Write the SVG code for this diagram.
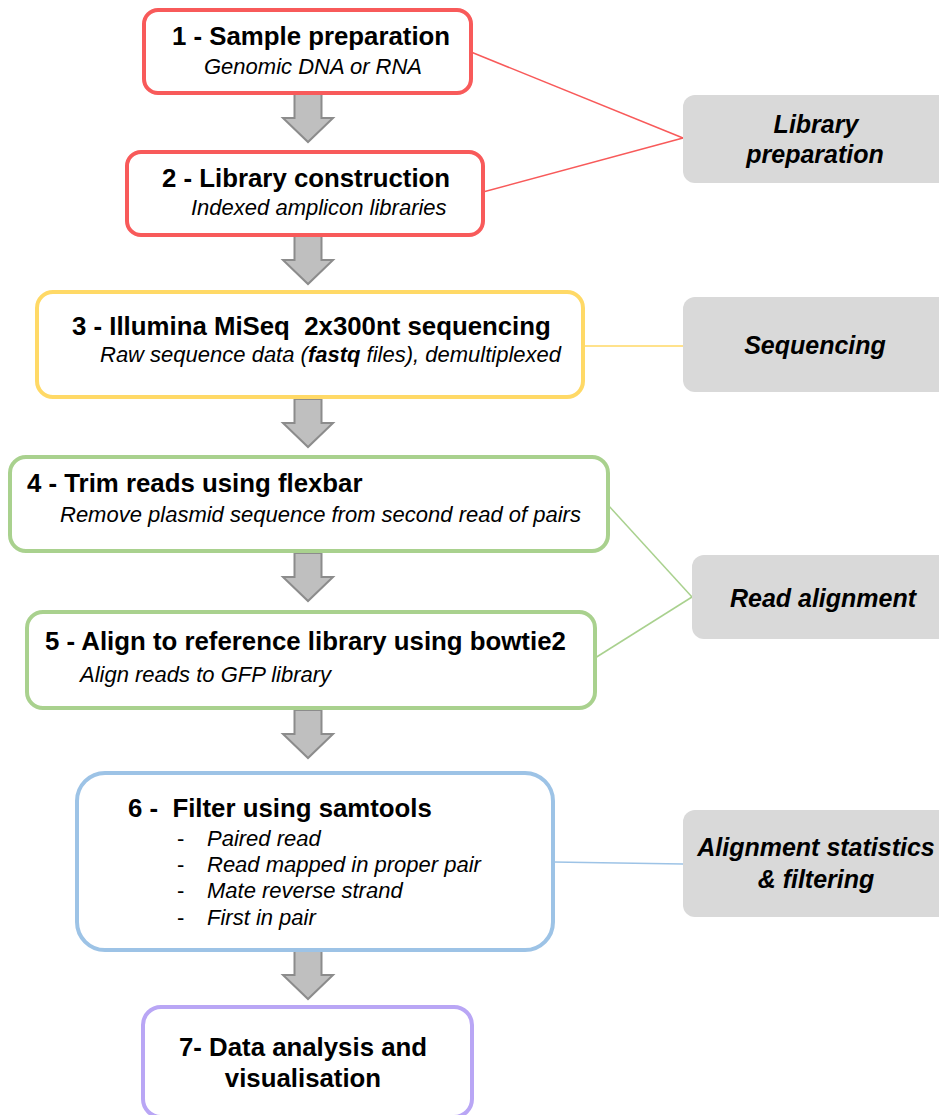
<svg xmlns="http://www.w3.org/2000/svg" width="939" height="1115" viewBox="0 0 939 1115">
  <style>
    .step { fill: #ffffff; stroke-width: 4; }
    .red { stroke: #F85A5A; }
    .yellow { stroke: #FFD966; }
    .green { stroke: #A9D18E; }
    .blue { stroke: #9DC3E6; }
    .purple { stroke: #B9A6F5; }
    .stage { fill: #D9D9D9; stroke: none; }
    .title { font-family: "Liberation Sans", Arial, sans-serif; font-weight: bold; font-size: 25.8px; fill: #000; }
    .sub { font-family: "Liberation Sans", Arial, sans-serif; font-style: italic; font-size: 22px; fill: #000; }
    .dash { font-family: "Liberation Sans", Arial, sans-serif; font-size: 22px; fill: #000; }
    .label { font-family: "Liberation Sans", Arial, sans-serif; font-weight: bold; font-style: italic; font-size: 25px; fill: #000; text-anchor: middle; }
    .flow { fill: #BFBFBF; stroke: #8C8C8C; stroke-width: 2; stroke-linejoin: miter; }
    .link { fill: none; stroke-width: 1.5; }
  </style>
  <defs>
    <!-- block arrow pointing down, top at y=0 -->
    <polygon id="down" points="-13.5,0 13.5,0 13.5,24 25,24 0,48 -25,24 -13.5,24 -13.5,0"/>
  </defs>

  <rect width="939" height="1115" fill="#ffffff"/>

  <!-- connectors between steps and stage labels -->
  <g id="connectors">
    <line class="link red" x1="471" y1="52" x2="683" y2="138"/>
    <line class="link red" x1="483" y1="192" x2="683" y2="138"/>
    <line class="link yellow" x1="583" y1="346" x2="683" y2="346"/>
    <line class="link green" x1="608" y1="505" x2="692" y2="597"/>
    <line class="link green" x1="595" y1="658" x2="692" y2="597"/>
    <line class="link blue" x1="553" y1="862" x2="683" y2="864"/>
    <use href="#down" class="flow" x="308" y="94"/>
    <use href="#down" class="flow" x="308" y="236"/>
    <use href="#down" class="flow" x="308" y="399"/>
    <use href="#down" class="flow" x="308" y="553"/>
    <use href="#down" class="flow" x="308" y="710"/>
    <use href="#down" class="flow" x="308" y="951"/>
  </g>

  <g id="step1">
    <rect class="step red" x="144" y="10" width="327" height="83" rx="14"/>
    <text class="title" x="172" y="45">1 - Sample preparation</text>
    <text class="sub" x="204" y="74">Genomic DNA or RNA</text>
  </g>

  <g id="step2">
    <rect class="step red" x="127" y="152" width="356" height="83" rx="14"/>
    <text class="title" x="162" y="187">2 - Library construction</text>
    <text class="sub" x="191" y="215">Indexed amplicon libraries</text>
  </g>

  <g id="step3">
    <rect class="step yellow" x="37" y="292" width="546" height="105" rx="16"/>
    <text class="title" x="72" y="335" xml:space="preserve">3 - Illumina MiSeq  2x300nt sequencing</text>
    <text class="sub" x="100" y="362">Raw sequence data (<tspan font-weight="bold">fastq</tspan> files), demultiplexed</text>
  </g>

  <g id="step4">
    <rect class="step green" x="10" y="457" width="598" height="94" rx="16"/>
    <text class="title" x="27" y="492">4 - Trim reads using flexbar</text>
    <text class="sub" x="60" y="522">Remove plasmid sequence from second read of pairs</text>
  </g>

  <g id="step5">
    <rect class="step green" x="27" y="612" width="568" height="96" rx="16"/>
    <text class="title" x="45" y="650">5 - Align to reference library using bowtie2</text>
    <text class="sub" x="80" y="682">Align reads to GFP library</text>
  </g>

  <g id="step6">
    <rect class="step blue" x="77" y="773" width="476" height="177" rx="28"/>
    <text class="title" x="128" y="817" xml:space="preserve">6 -  Filter using samtools</text>
    <text class="dash" x="177" y="846">-</text>
    <text class="sub" x="207" y="846">Paired read</text>
    <text class="dash" x="177" y="872">-</text>
    <text class="sub" x="207" y="872">Read mapped in proper pair</text>
    <text class="dash" x="177" y="898">-</text>
    <text class="sub" x="207" y="898">Mate reverse strand</text>
    <text class="dash" x="177" y="925">-</text>
    <text class="sub" x="207" y="925">First in pair</text>
  </g>

  <g id="step7">
    <rect class="step purple" x="143" y="1007" width="329" height="110" rx="18"/>
    <text class="title" x="303" y="1056" text-anchor="middle">7- Data analysis and</text>
    <text class="title" x="303" y="1087" text-anchor="middle">visualisation</text>
  </g>

  <g id="stage-library">
    <rect class="stage" x="683" y="95" width="270" height="88" rx="12"/>
    <text class="label" x="816" y="133">Library</text>
    <text class="label" x="815" y="163">preparation</text>
  </g>

  <g id="stage-sequencing">
    <rect class="stage" x="683" y="297" width="270" height="95" rx="12"/>
    <text class="label" x="815" y="354">Sequencing</text>
  </g>

  <g id="stage-alignment">
    <rect class="stage" x="692" y="555" width="260" height="84" rx="12"/>
    <text class="label" x="823" y="607">Read alignment</text>
  </g>

  <g id="stage-filtering">
    <rect class="stage" x="683" y="810" width="270" height="107" rx="12"/>
    <text class="label" x="816" y="856">Alignment statistics</text>
    <text class="label" x="816" y="888">&amp; filtering</text>
  </g>
</svg>
